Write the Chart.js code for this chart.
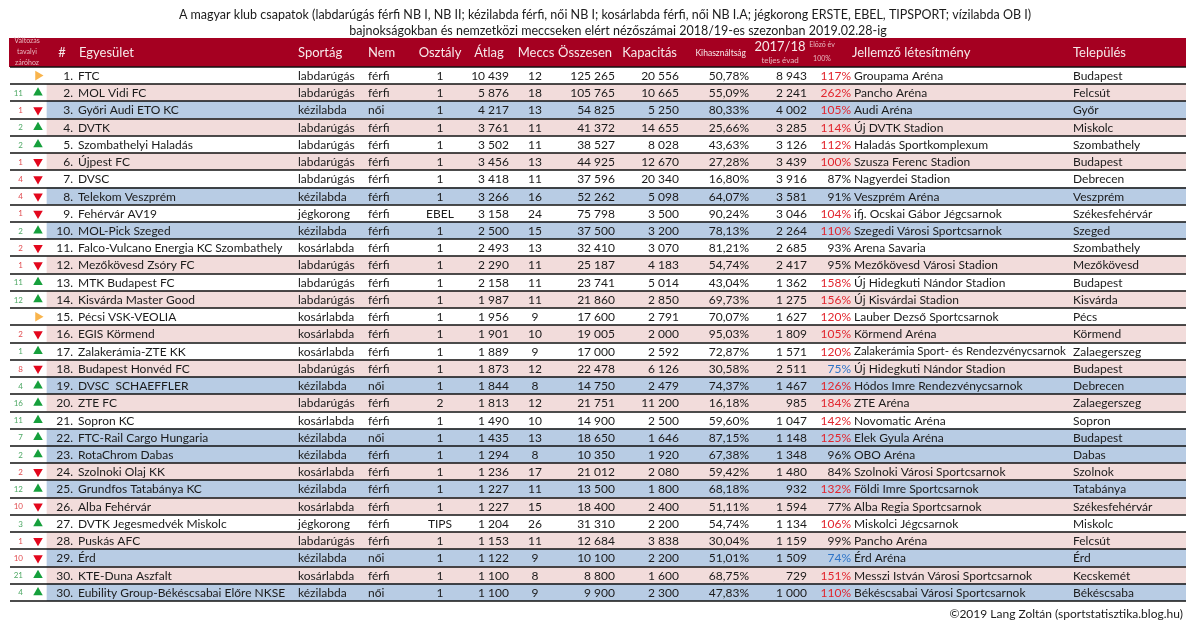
<!DOCTYPE html>
<html lang="hu">
<head>
<meta charset="utf-8">
<title>Magyar klubcsapatok nézőszámai 2018/19</title>
<script src="https://cdn.jsdelivr.net/npm/chart.js@4.4.1/dist/chart.umd.min.js"></script>
<style>
  html, body { margin: 0; padding: 0; background: #fff; }
  #wrap { position: relative; width: 1192px; height: 626px; }
</style>
</head>
<body>
<div id="wrap"><canvas id="table"></canvas></div>
<script>
// --- data ---
const ranks = ['1.', '2.', '3.', '4.', '5.', '6.', '7.', '8.', '9.', '10.', '11.', '12.', '13.', '14.', '15.', '16.',
    '17.', '18.', '19.', '20.', '21.', '22.', '23.', '24.', '25.', '26.', '27.', '28.', '29.', '30.', '30.'];
const clubs = ['FTC', 'MOL Vidi FC', 'Győri Audi ETO KC', 'DVTK', 'Szombathelyi Haladás', 'Újpest FC', 'DVSC',
    'Telekom Veszprém', 'Fehérvár AV19', 'MOL-Pick Szeged', 'Falco-Vulcano Energia KC Szombathely',
    'Mezőkövesd Zsóry FC', 'MTK Budapest FC', 'Kisvárda Master Good', 'Pécsi VSK-VEOLIA', 'EGIS Körmend',
    'Zalakerámia-ZTE KK', 'Budapest Honvéd FC', 'DVSC  SCHAEFFLER', 'ZTE FC', 'Sopron KC', 'FTC-Rail Cargo Hungaria',
    'RotaChrom Dabas', 'Szolnoki Olaj KK', 'Grundfos Tatabánya KC', 'Alba Fehérvár', 'DVTK Jegesmedvék Miskolc',
    'Puskás AFC', 'Érd', 'KTE-Duna Aszfalt', 'Eubility Group-Békéscsabai Előre NKSE'];
const sports = ['labdarúgás', 'labdarúgás', 'kézilabda', 'labdarúgás', 'labdarúgás', 'labdarúgás', 'labdarúgás',
    'kézilabda', 'jégkorong', 'kézilabda', 'kosárlabda', 'labdarúgás', 'labdarúgás', 'labdarúgás', 'kosárlabda',
    'kosárlabda', 'kosárlabda', 'labdarúgás', 'kézilabda', 'labdarúgás', 'kosárlabda', 'kézilabda', 'kézilabda',
    'kosárlabda', 'kézilabda', 'kosárlabda', 'jégkorong', 'labdarúgás', 'kézilabda', 'kosárlabda', 'kézilabda'];
const genders = ['férfi', 'férfi', 'női', 'férfi', 'férfi', 'férfi', 'férfi', 'férfi', 'férfi', 'férfi', 'férfi',
    'férfi', 'férfi', 'férfi', 'férfi', 'férfi', 'férfi', 'férfi', 'női', 'férfi', 'férfi', 'női', 'férfi', 'férfi',
    'férfi', 'férfi', 'férfi', 'férfi', 'női', 'férfi', 'női'];
const divisions = ['1', '1', '1', '1', '1', '1', '1', '1', 'EBEL', '1', '1', '1', '1', '1', '1', '1', '1', '1', '1',
    '2', '1', '1', '1', '1', '1', '1', 'TIPS', '1', '1', '1', '1'];
const averages = [10439, 5876, 4217, 3761, 3502, 3456, 3418, 3266, 3158, 2500, 2493, 2290, 2158, 1987, 1956, 1901,
    1889, 1873, 1844, 1813, 1490, 1435, 1294, 1236, 1227, 1227, 1204, 1153, 1122, 1100, 1100];
const matches = [12, 18, 13, 11, 11, 13, 11, 16, 24, 15, 13, 11, 11, 11, 9, 10, 9, 12, 8, 12, 10, 13, 8, 17, 11, 15,
    26, 11, 9, 8, 9];
const totals = [125265, 105765, 54825, 41372, 38527, 44925, 37596, 52262, 75798, 37500, 32410, 25187, 23741, 21860,
    17600, 19005, 17000, 22478, 14750, 21751, 14900, 18650, 10350, 21012, 13500, 18400, 31310, 12684, 10100, 8800, 9900];
const capacities = [20556, 10665, 5250, 14655, 8028, 12670, 20340, 5098, 3500, 3200, 3070, 4183, 5014, 2850, 2791,
    2000, 2592, 6126, 2479, 11200, 2500, 1646, 1920, 2080, 1800, 2400, 2200, 3838, 2200, 1600, 2300];
const utilization = [50.78, 55.09, 80.33, 25.66, 43.63, 27.28, 16.80, 64.07, 90.24, 78.13, 81.21, 54.74, 43.04, 69.73,
    70.07, 95.03, 72.87, 30.58, 74.37, 16.18, 59.60, 87.15, 67.38, 59.42, 68.18, 51.11, 54.74, 30.04, 51.01, 68.75, 47.83];
const prevSeason = [8943, 2241, 4002, 3285, 3126, 3439, 3916, 3581, 3046, 2264, 2685, 2417, 1362, 1275, 1627, 1809,
    1571, 2511, 1467, 985, 1047, 1148, 1348, 1480, 932, 1594, 1134, 1159, 1509, 729, 1000];
const prevPct = [117, 262, 105, 114, 112, 100, 87, 91, 104, 110, 93, 95, 158, 156, 120, 105, 120, 75, 126, 184, 142,
    125, 96, 84, 132, 77, 106, 99, 74, 151, 110];
const venues = ['Groupama Aréna', 'Pancho Aréna', 'Audi Aréna', 'Új DVTK Stadion', 'Haladás Sportkomplexum',
    'Szusza Ferenc Stadion', 'Nagyerdei Stadion', 'Veszprém Aréna', 'ifj. Ocskai Gábor Jégcsarnok',
    'Szegedi Városi Sportcsarnok', 'Arena Savaria', 'Mezőkövesd Városi Stadion', 'Új Hidegkuti Nándor Stadion',
    'Új Kisvárdai Stadion', 'Lauber Dezső Sportcsarnok', 'Körmend Aréna', 'Zalakerámia Sport- és Rendezvénycsarnok',
    'Új Hidegkuti Nándor Stadion', 'Hódos Imre Rendezvénycsarnok', 'ZTE Aréna', 'Novomatic Aréna', 'Elek Gyula Aréna',
    'OBO Aréna', 'Szolnoki Városi Sportcsarnok', 'Földi Imre Sportcsarnok', 'Alba Regia Sportcsarnok',
    'Miskolci Jégcsarnok', 'Pancho Aréna', 'Érd Aréna', 'Messzi István Városi Sportcsarnok',
    'Békéscsabai Városi Sportcsarnok'];
const cities = ['Budapest', 'Felcsút', 'Győr', 'Miskolc', 'Szombathely', 'Budapest', 'Debrecen', 'Veszprém',
    'Székesfehérvár', 'Szeged', 'Szombathely', 'Mezőkövesd', 'Budapest', 'Kisvárda', 'Pécs', 'Körmend', 'Zalaegerszeg',
    'Budapest', 'Debrecen', 'Zalaegerszeg', 'Sopron', 'Budapest', 'Dabas', 'Szolnok', 'Tatabánya', 'Székesfehérvár',
    'Miskolc', 'Felcsút', 'Érd', 'Kecskemét', 'Békéscsaba'];
const changeSteps = [null, 11, 1, 2, 2, 1, 4, 4, 1, 2, 2, 1, 11, 12, null, 2, 1, 8, 4, 16, 11, 7, 2, 2, 12, 10, 3, 1,
    10, 21, 4];
const changeDirs = ['same', 'up', 'down', 'up', 'up', 'down', 'down', 'down', 'down', 'up', 'down', 'down', 'up', 'up',
    'same', 'down', 'up', 'down', 'up', 'up', 'up', 'up', 'up', 'down', 'up', 'down', 'up', 'down', 'down', 'up', 'up'];
const rowTones = ['w', 'p', 'b', 'p', 'w', 'p', 'w', 'b', 'w', 'b', 'w', 'p', 'w', 'p', 'w', 'p', 'w', 'p', 'b', 'p',
    'w', 'b', 'b', 'p', 'b', 'p', 'w', 'p', 'b', 'p', 'b'];

const titleLines = [
    'A magyar klub csapatok (labdarúgás férfi NB I, NB II; kézilabda férfi, női NB I; kosárlabda férfi, női NB I.A; jégkorong ERSTE, EBEL, TIPSPORT; vízilabda OB I)',
    'bajnokságokban és nemzetközi meccseken elért nézőszámai 2018/19-es szezonban 2019.02.28-ig'
];
const footnote = '©2019 Lang Zoltán (sportstatisztika.blog.hu)';

// --- look ---
const FONT = 'Lato, "Open Sans", sans-serif';
const TEXT = '#1b1b1b';
const HEAD_BG = '#a50021';
const HEAD_TEXT = '#f7e9ea';
const HEAD_SMALL = '#e9b9c1';
const TONES = { w: '#ffffff', p: '#f2dcdb', b: '#b8cce4' };
const ARROWS = { up: '#16a03c', down: '#e3071d', same: '#f9b44c' };
const STEP_TEXT = { up: '#4ea865', down: '#e04b4f' };
const RED_PCT = '#e2262e';
const BLUE_PCT = '#2e75c8';

const LEFT = 10;
const RIGHT = 1186;
const BAND_LEFT = 47;
const ARROW_X = 38;
const HEAD_TOP = 38;
const BODY_TOP = 67;
const BODY_BOTTOM = 601;

const rowLabels = ranks.map((r, i) => `${r} ${clubs[i]}`);

function fmtInt(v) {
    return String(v).replace(/\B(?=(\d{3})+(?!\d))/g, ' ');
}

function fmtPct(v) {
    return v.toFixed(2).replace('.', ',') + '%';
}

function pctColor(v) {
    if (v >= 100) return RED_PCT;
    if (v <= 75) return BLUE_PCT;
    return TEXT;
}

// body columns: where each value sits and how it is aligned
const columns = [
    { x: 73, align: 'right', value: i => ranks[i] },
    { x: 78, align: 'left', value: i => clubs[i] },
    { x: 298, align: 'left', value: i => sports[i] },
    { x: 368, align: 'left', value: i => genders[i] },
    { x: 440, align: 'center', value: i => divisions[i] },
    { x: 509, align: 'right', value: i => fmtInt(averages[i]) },
    { x: 535, align: 'center', value: i => String(matches[i]) },
    { x: 615, align: 'right', value: i => fmtInt(totals[i]) },
    { x: 679, align: 'right', value: i => fmtInt(capacities[i]) },
    { x: 749, align: 'right', value: i => fmtPct(utilization[i]) },
    { x: 807, align: 'right', value: i => fmtInt(prevSeason[i]) },
    { x: 851, align: 'right', value: i => prevPct[i] + '%', color: i => pctColor(prevPct[i]) },
    { x: 854, align: 'left', value: i => venues[i], maxWidth: 214 },
    { x: 1073, align: 'left', value: i => cities[i] }
];

const headers = [
    { text: 'Változás', x: 27, y: 41, size: 7, align: 'center', color: HEAD_SMALL },
    { text: 'tavalyi', x: 27, y: 52, size: 7, align: 'center', color: HEAD_SMALL },
    { text: 'záróhoz', x: 27, y: 63, size: 7, align: 'center', color: HEAD_SMALL },
    { text: '#', x: 62, y: 53, size: 13, align: 'center' },
    { text: 'Egyesület', x: 79, y: 53, size: 13, align: 'left' },
    { text: 'Sportág', x: 298, y: 53, size: 13, align: 'left' },
    { text: 'Nem', x: 368, y: 53, size: 13, align: 'left' },
    { text: 'Osztály', x: 440, y: 53, size: 13, align: 'center' },
    { text: 'Átlag', x: 489, y: 53, size: 13, align: 'center' },
    { text: 'Meccs', x: 536, y: 53, size: 13, align: 'center' },
    { text: 'Összesen', x: 612, y: 53, size: 13, align: 'right' },
    { text: 'Kapacitás', x: 677, y: 53, size: 13, align: 'right' },
    { text: 'Kihasználtság', x: 746, y: 53, size: 8.5, align: 'right' },
    { text: '2017/18', x: 780, y: 47, size: 13, align: 'center' },
    { text: 'teljes évad', x: 780, y: 60, size: 8, align: 'center', color: HEAD_SMALL },
    { text: 'Előző év', x: 822, y: 45, size: 7, align: 'center', color: HEAD_SMALL },
    { text: '100%', x: 822, y: 59, size: 7, align: 'center', color: HEAD_SMALL },
    { text: 'Jellemző létesítmény', x: 852, y: 53, size: 13, align: 'left' },
    { text: 'Település', x: 1073, y: 53, size: 13, align: 'left' }
];

function drawText(ctx, str, x, y, opts) {
    let size = opts.size || 12;
    ctx.font = `${size}px ${FONT}`;
    if (opts.maxWidth) {
        while (size > 8 && ctx.measureText(str).width > opts.maxWidth) {
            size -= 0.25;
            ctx.font = `${size}px ${FONT}`;
        }
    }
    ctx.fillStyle = opts.color || TEXT;
    ctx.textAlign = opts.align || 'left';
    ctx.textBaseline = 'middle';
    ctx.fillText(str, x, y);
}

const tablePlugin = {
    id: 'tableText',
    beforeDraw(chart) {
        const ctx = chart.ctx;
        ctx.save();
        ctx.fillStyle = '#ffffff';
        ctx.fillRect(0, 0, chart.width, chart.height);
        drawText(ctx, titleLines[0], 605, 15, { size: 12.5, align: 'center' });
        drawText(ctx, titleLines[1], 618, 31, { size: 12.5, align: 'center' });
        ctx.fillStyle = HEAD_BG;
        ctx.fillRect(LEFT - 1, HEAD_TOP, RIGHT - LEFT + 1, BODY_TOP - HEAD_TOP);
        for (const h of headers) {
            drawText(ctx, h.text, h.x, h.y, { size: h.size, align: h.align, color: h.color || HEAD_TEXT });
        }
        ctx.restore();
    },
    afterDatasetsDraw(chart) {
        const ctx = chart.ctx;
        const yScale = chart.scales.y;
        const n = rowLabels.length;
        const half = (yScale.getPixelForValue(1) - yScale.getPixelForValue(0)) / 2;
        ctx.save();

        // row separators
        ctx.strokeStyle = '#111111';
        ctx.lineWidth = 1.5;
        for (let i = 0; i <= n; i++) {
            const y = i < n ? yScale.getPixelForValue(i) - half : yScale.getPixelForValue(n - 1) + half;
            ctx.beginPath();
            ctx.moveTo(LEFT, Math.round(y));
            ctx.lineTo(RIGHT, Math.round(y));
            ctx.stroke();
        }

        for (let i = 0; i < n; i++) {
            const y = yScale.getPixelForValue(i) + 0.5;
            if (changeSteps[i] !== null) {
                drawText(ctx, String(changeSteps[i]), 23, y, { size: 8, align: 'right', color: STEP_TEXT[changeDirs[i]] });
            }
            for (const col of columns) {
                drawText(ctx, col.value(i), col.x, y, {
                    size: 12,
                    align: col.align,
                    color: col.color ? col.color(i) : TEXT,
                    maxWidth: col.maxWidth
                });
            }
        }

        drawText(ctx, footnote, 1183, 614, { size: 12, align: 'right' });
        ctx.restore();
    }
};

new Chart(document.getElementById('table'), {
    type: 'bar',
    data: {
        labels: rowLabels,
        datasets: [
            {
                type: 'bar',
                indexAxis: 'y',
                data: rowLabels.map(() => [BAND_LEFT, RIGHT]),
                backgroundColor: rowTones.map(t => TONES[t]),
                borderWidth: 0,
                barPercentage: 1,
                categoryPercentage: 1,
                order: 2
            },
            {
                type: 'scatter',
                data: rowLabels.map(label => ({ x: ARROW_X, y: label })),
                pointStyle: 'triangle',
                pointRadius: 5.5,
                pointBorderWidth: 0,
                pointRotation: changeDirs.map(d => (d === 'up' ? 0 : d === 'down' ? 180 : 90)),
                pointBackgroundColor: changeDirs.map(d => ARROWS[d]),
                order: 1
            }
        ]
    },
    options: {
        responsive: true,
        maintainAspectRatio: false,
        animation: false,
        events: [],
        layout: { padding: { left: LEFT, right: 1192 - RIGHT, top: BODY_TOP, bottom: 626 - BODY_BOTTOM } },
        plugins: {
            legend: { display: false },
            tooltip: { enabled: false }
        },
        scales: {
            x: { type: 'linear', min: LEFT, max: RIGHT, offset: false, display: false, grid: { offset: false } },
            y: { type: 'category', offset: true, display: false }
        }
    },
    plugins: [tablePlugin]
});
</script>
</body>
</html>
